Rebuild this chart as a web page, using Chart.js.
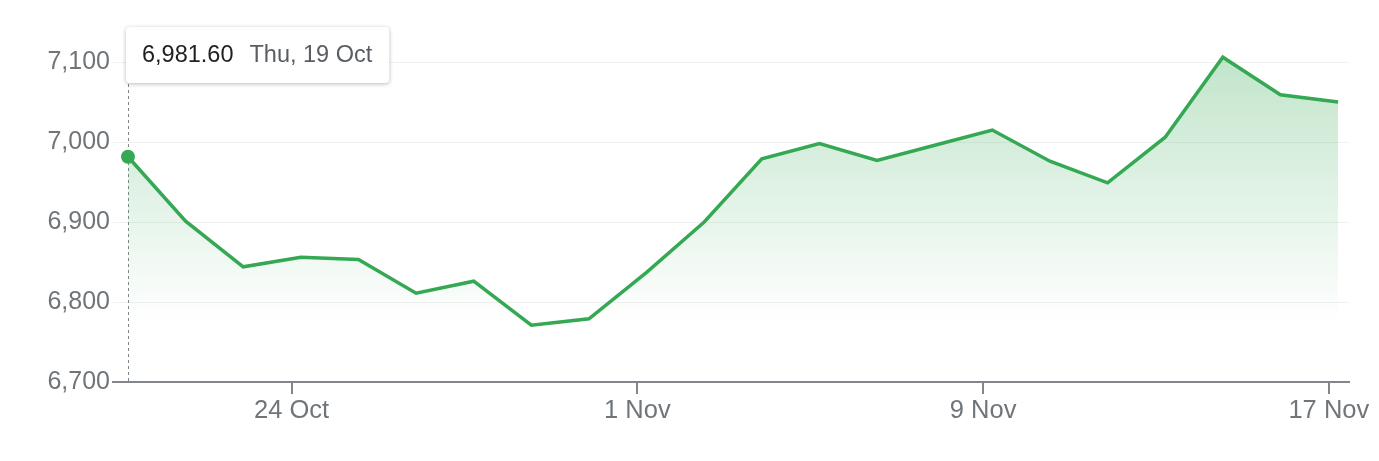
<!DOCTYPE html>
<html><head><meta charset="utf-8">
<script src="https://cdn.jsdelivr.net/npm/chart.js@4"></script>
<style>html,body{margin:0;padding:0;background:#fff;} #wrap{width:1379px;height:461px;position:relative}</style>
</head><body><div id="wrap"><canvas id="c" width="1379" height="461"></canvas></div>
<script>
const dates = ['Thu, 19 Oct','Fri, 20 Oct','Mon, 23 Oct','Tue, 24 Oct','Wed, 25 Oct','Thu, 26 Oct','Fri, 27 Oct','Mon, 30 Oct','Tue, 31 Oct','Wed, 1 Nov','Thu, 2 Nov','Fri, 3 Nov','Mon, 6 Nov','Tue, 7 Nov','Wed, 8 Nov','Thu, 9 Nov','Fri, 10 Nov','Mon, 13 Nov','Tue, 14 Nov','Wed, 15 Nov','Thu, 16 Nov','Fri, 17 Nov'];
const closes = [6981.6, 6901, 6844, 6856, 6853, 6811, 6826, 6771, 6779, 6837, 6900, 6979, 6998, 6977, 6996, 7015, 6976, 6949, 7006, 7106, 7059, 7050];
const xTickLabels = ['24 Oct','1 Nov','9 Nov','17 Nov'];
const xTickIndex = [3, 9, 15, 21];
const yTicks = [6700, 6800, 6900, 7000, 7100];
const highlighted = 0;

const GREEN = '#34a853';
const TICK_SHIFT = 0.16;
Chart.defaults.font.family = '"Liberation Sans", Arial, Helvetica, sans-serif';

const points = closes.map((v, i) => ({x: i, y: v}));

const hoverPlugin = {
  id: 'hoverPlugin',
  beforeDatasetsDraw(chart) {
    const el = chart.getDatasetMeta(0).data[highlighted];
    const ctx = chart.ctx;
    ctx.save();
    ctx.strokeStyle = '#80868b';
    ctx.lineWidth = 1;
    ctx.setLineDash([3, 3]);
    ctx.beginPath();
    ctx.moveTo(Math.round(el.x) + 0.5, 84);
    ctx.lineTo(Math.round(el.x) + 0.5, chart.chartArea.bottom);
    ctx.stroke();
    ctx.restore();
  },
  afterDraw(chart) {
    const el = chart.getDatasetMeta(0).data[highlighted];
    const ctx = chart.ctx;
    const valTxt = closes[highlighted].toLocaleString('en-US', {minimumFractionDigits: 2, maximumFractionDigits: 2});
    const dateTxt = dates[highlighted];
    ctx.save();
    ctx.font = '23.5px "Liberation Sans", Arial, sans-serif';
    const w1 = ctx.measureText(valTxt).width;
    const w2 = ctx.measureText(dateTxt).width;
    const padL = 16, gap = 16, padR = 17;
    const left = el.x - 2, top = 27, h = 56;
    const w = padL + w1 + gap + w2 + padR;
    ctx.shadowColor = 'rgba(0,0,0,0.28)';
    ctx.shadowBlur = 4;
    ctx.shadowOffsetY = 1;
    ctx.fillStyle = '#fff';
    ctx.beginPath();
    ctx.roundRect(left, top, w, h, 4);
    ctx.fill();
    ctx.shadowColor = 'transparent';
    ctx.textBaseline = 'middle';
    ctx.fillStyle = '#1f1f1f';
    ctx.fillText(valTxt, left + padL, top + h / 2 + 1);
    ctx.fillStyle = '#5a5e63';
    ctx.fillText(dateTxt, left + padL + w1 + gap, top + h / 2 + 1);
    ctx.restore();
  }
};

new Chart(document.getElementById('c'), {
  type: 'line',
  data: {
    datasets: [{
      data: points,
      borderColor: GREEN,
      borderWidth: 3.5,
      tension: 0,
      pointRadius: c => c.dataIndex === highlighted ? 7 : 0,
      pointBackgroundColor: GREEN,
      pointBorderWidth: 0,
      fill: 'start',
      backgroundColor: c => {
        const ca = c.chart.chartArea;
        if (!ca) return 'rgba(52,168,83,0.2)';
        const g = c.chart.ctx.createLinearGradient(0, ca.top, 0, ca.bottom - 60);
        g.addColorStop(0, 'rgba(52,168,83,0.32)');
        g.addColorStop(1, 'rgba(52,168,83,0)');
        return g;
      }
    }]
  },
  options: {
    responsive: false,
    animation: false,
    devicePixelRatio: 1,
    layout: {padding: {left: 0, right: 30, top: 42, bottom: 0}},
    plugins: {legend: {display: false}, tooltip: {enabled: false}},
    events: [],
    scales: {
      x: {
        type: 'linear',
        min: -0.26,
        max: 21.19,
        afterBuildTicks: s => { s.ticks = xTickIndex.map(i => ({value: i - TICK_SHIFT})); },
        afterFit: s => { s.height = 79; },
        ticks: {
          autoSkip: false,
          maxRotation: 0,
          padding: 2,
          color: '#70757a',
          font: {size: 25.5},
          callback: (v, i) => xTickLabels[i]
        },
        grid: {drawOnChartArea: false, drawTicks: true, tickLength: 12, color: '#80868b', lineWidth: 2},
        border: {display: true, color: '#80868b', width: 2}
      },
      y: {
        min: 6700,
        max: 7125,
        afterBuildTicks: s => { s.ticks = yTicks.map(v => ({value: v})); },
        afterFit: s => { s.width = 113; },
        ticks: {
          padding: 3,
          color: '#70757a',
          font: {size: 25},
          callback: v => v.toLocaleString('en-US')
        },
        grid: {drawTicks: false, color: '#f1f1f1', lineWidth: 1},
        border: {display: false}
      }
    }
  },
  plugins: [hoverPlugin]
});
</script>
</body></html>
